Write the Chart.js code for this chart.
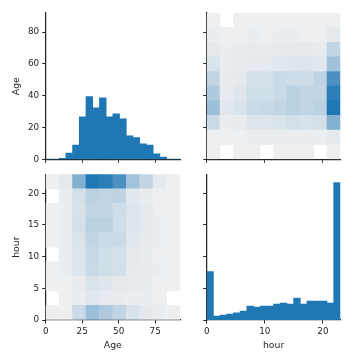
<!DOCTYPE html>
<html><head><meta charset="utf-8">
<script src="https://cdn.jsdelivr.net/npm/chart.js@4.4.1/dist/chart.umd.min.js"></script>
<style>
html,body{margin:0;padding:0;background:#fff;}
#wrap{position:relative;width:360px;height:360px;overflow:hidden;background:#fff;}
#wrap canvas{position:absolute;left:0;top:0;}
</style></head><body>
<div id="wrap">
<canvas id="cTL" width="360" height="360"></canvas>
<canvas id="cTR" width="360" height="360"></canvas>
<canvas id="cBL" width="360" height="360"></canvas>
<canvas id="cBR" width="360" height="360"></canvas>
</div>
<script>
// ---------- data ----------
const variables = ["Age", "hour"];
const ageRange = [0, 92];
const hourRange = [0, 23];
const ageTickStepX = 25;
const ageTickStepY = 20;
const hourTickStepX = 10;
const hourTickStepY = 5;

// 1D histogram counts (20 bins each)
const ageHistCounts  = [1, 2, 7, 43, 98, 290, 428, 352, 421, 290, 311, 277, 160, 149, 105, 98, 37, 16, 2, 2];
const hourHistCounts = [333, 27, 34, 41, 50, 61, 95, 88, 95, 95, 109, 116, 109, 150, 109, 129, 129, 129, 116, 943];
const diagCountMax = 1000;

// 2D histogram counts: rows = hour bins (low->high), cols = age bins (low->high)
const ageHour2D = [
  [1, 1, 18, 40, 31, 22, 11, 6, 2, 1],
  [0, 1, 2, 7, 4, 3, 2, 2, 1, 0],
  [1, 1, 3, 11, 8, 6, 4, 3, 1, 1],
  [1, 2, 9, 18, 15, 13, 5, 4, 2, 1],
  [0, 2, 9, 19, 15, 13, 6, 3, 1, 1],
  [1, 2, 11, 22, 18, 18, 7, 5, 2, 1],
  [1, 2, 13, 26, 26, 16, 8, 5, 2, 1],
  [1, 2, 12, 22, 22, 16, 9, 5, 1, 1],
  [0, 2, 13, 25, 22, 23, 7, 3, 1, 1],
  [1, 6, 53, 100, 94, 79, 38, 22, 6, 1]
];

// ---------- helpers ----------
const INK = '#262626';
const BAR = '#1f77b4';
const LIGHT = [239, 240, 241];
const DARK = [31, 119, 180];
Chart.defaults.font.family = "'DejaVu Sans', sans-serif";
Chart.defaults.color = INK;

function edges(range, n) {
  const w = (range[1] - range[0]) / n;
  const e = [];
  for (let i = 0; i <= n; i++) e.push(range[0] + i * w);
  return e;
}
function centers(e) { return e.slice(0, -1).map((v, i) => (v + e[i + 1]) / 2); }

const vmax2D = Math.max(...ageHour2D.flat());
function cmap(v) {
  const t = v / vmax2D;
  const c = LIGHT.map((l, k) => Math.round(l + (DARK[k] - l) * t));
  return `rgb(${c[0]},${c[1]},${c[2]})`;
}

function axis(o) {
  return {
    type: 'linear', display: true, position: o.position,
    min: o.range[0], max: o.range[1], offset: false,
    border: { display: true, color: INK, width: 1.25 },
    grid: { display: true, drawOnChartArea: false, drawTicks: true, tickLength: 3.5, tickColor: INK, tickWidth: 1, offset: false },
    ticks: {
      stepSize: o.step, includeBounds: false, autoSkip: false, maxRotation: 0, minRotation: 0,
      padding: o.vertical ? 3 : 2.5, color: INK, font: { size: 8.8 },
      callback: o.labels ? (v) => String(v) : () => ''
    },
    title: o.title ? {
      display: true, text: o.title, color: INK, font: { size: 9.3 },
      padding: o.vertical ? { top: 10.7, bottom: 0 } : { top: 0, bottom: 9 }
    } : { display: false },
    afterFit: (s) => { if (o.vertical) s.width = o.size; else s.height = o.size; }
  };
}

// subplot boxes
const COLS = [{ l: 45.7, r: 180 }, { l: 206.7, r: 340.4 }];
const ROWS = [{ t: 13, b: 159.3 }, { t: 174.3, b: 320 }];

function padFor(col, row, yW, xH) {
  return {
    left: COLS[col].l - yW,
    right: 360 - COLS[col].r,
    top: ROWS[row].t,
    bottom: 360 - ROWS[row].b - xH
  };
}

function baseOptions(col, row, yW, xH, scales) {
  return {
    responsive: false, animation: false, devicePixelRatio: 1,
    layout: { padding: padFor(col, row, yW, xH) },
    plugins: { legend: { display: false }, tooltip: { enabled: false } },
    events: [],
    scales
  };
}

const ageE1 = edges(ageRange, ageHistCounts.length);
const hourE1 = edges(hourRange, hourHistCounts.length);
const ageE2 = edges(ageRange, ageHour2D[0].length);
const hourE2 = edges(hourRange, ageHour2D.length);

function histDataset(e, counts) {
  return {
    type: 'bar', yAxisID: 'yc',
    data: centers(e).map((x, i) => ({ x, y: counts[i] })),
    backgroundColor: BAR, borderWidth: 0,
    barPercentage: 1, categoryPercentage: 1, grouped: false
  };
}

// ---------- top-left: Age histogram ----------
const yW_L = 45.7, yW_R = 20, xH_T = 10, xH_B = 40;
new Chart(document.getElementById('cTL'), {
  type: 'bar',
  data: { datasets: [histDataset(ageE1, ageHistCounts)] },
  options: baseOptions(0, 0, yW_L, xH_T, {
    x: axis({ position: 'bottom', range: ageRange, step: ageTickStepX, labels: false, size: xH_T }),
    y: axis({ position: 'left', range: ageRange, step: ageTickStepY, labels: true, vertical: true, title: variables[0], size: yW_L }),
    yc: { type: 'linear', display: false, min: 0, max: diagCountMax }
  })
});

// ---------- top-right: x = hour, y = Age ----------
const hourCenters2 = centers(hourE2);
const trDatasets = ageE2.slice(0, -1).map((lo, ai) => {
  const pts = [], cols = [];
  hourCenters2.forEach((x, hi) => {
    const v = ageHour2D[hi][ai];
    if (v > 0) { pts.push({ x, y: [lo, ageE2[ai + 1]] }); cols.push(cmap(v)); }
  });
  return { type: 'bar', data: pts, backgroundColor: cols, borderWidth: 0, barPercentage: 1, categoryPercentage: 1, grouped: false };
});
new Chart(document.getElementById('cTR'), {
  type: 'bar',
  data: { datasets: trDatasets },
  options: baseOptions(1, 0, yW_R, xH_T, {
    x: axis({ position: 'bottom', range: hourRange, step: hourTickStepX, labels: false, size: xH_T }),
    y: axis({ position: 'left', range: ageRange, step: ageTickStepY, labels: false, vertical: true, size: yW_R })
  })
});

// ---------- bottom-left: x = Age, y = hour ----------
const ageCenters2 = centers(ageE2);
const blDatasets = hourE2.slice(0, -1).map((lo, hi) => {
  const pts = [], cols = [];
  ageCenters2.forEach((x, ai) => {
    const v = ageHour2D[hi][ai];
    if (v > 0) { pts.push({ x, y: [lo, hourE2[hi + 1]] }); cols.push(cmap(v)); }
  });
  return { type: 'bar', data: pts, backgroundColor: cols, borderWidth: 0, barPercentage: 1, categoryPercentage: 1, grouped: false };
});
new Chart(document.getElementById('cBL'), {
  type: 'bar',
  data: { datasets: blDatasets },
  options: baseOptions(0, 1, yW_L, xH_B, {
    x: axis({ position: 'bottom', range: ageRange, step: ageTickStepX, labels: true, title: variables[0], size: xH_B }),
    y: axis({ position: 'left', range: hourRange, step: hourTickStepY, labels: true, vertical: true, title: variables[1], size: yW_L })
  })
});

// ---------- bottom-right: hour histogram ----------
new Chart(document.getElementById('cBR'), {
  type: 'bar',
  data: { datasets: [histDataset(hourE1, hourHistCounts)] },
  options: baseOptions(1, 1, yW_R, xH_B, {
    x: axis({ position: 'bottom', range: hourRange, step: hourTickStepX, labels: true, title: variables[1], size: xH_B }),
    y: axis({ position: 'left', range: hourRange, step: hourTickStepY, labels: false, vertical: true, size: yW_R }),
    yc: { type: 'linear', display: false, min: 0, max: diagCountMax }
  })
});
</script>
</body></html>
